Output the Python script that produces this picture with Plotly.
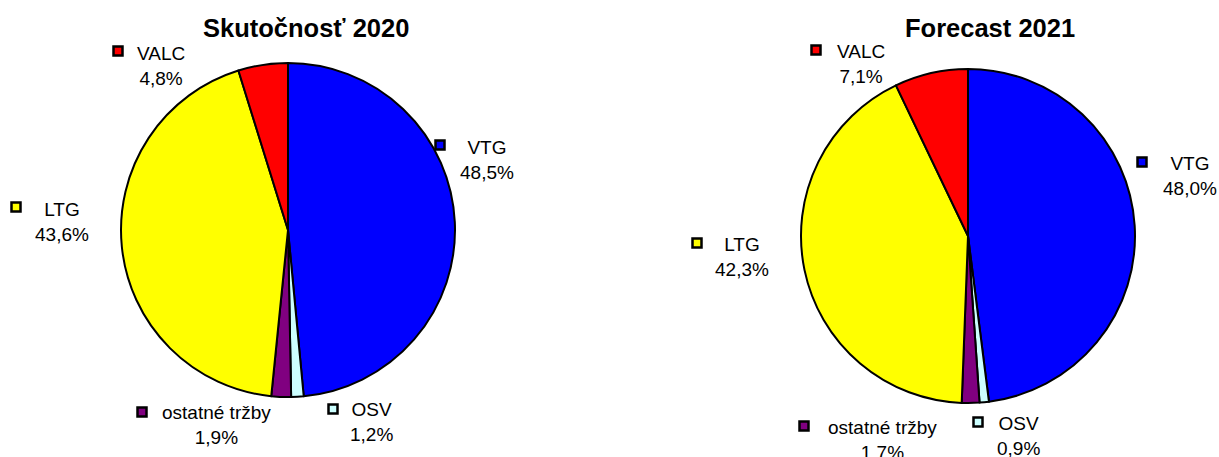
import plotly.graph_objects as go

W, H = 1219, 457

categories = ["VTG", "OSV", "ostatné tržby", "LTG", "VALC"]
values_2020 = [48.5, 1.2, 1.9, 43.6, 4.8]
values_2021 = [48.0, 0.9, 1.7, 42.3, 7.1]
titles = ["Skutočnosť 2020", "Forecast 2021"]
colors = ["#0000FF", "#CCFFFF", "#800080", "#FFFF00", "#FF0000"]

FONT = "Liberation Sans, Arial, sans-serif"

def px(x):
    return x / W

def py(y):
    return 1 - y / H

# pie placement in pixels: (left, right, top, bottom)
pie_boxes = [(121, 455, 63, 397), (801, 1135, 69, 403)]
title_pos = [(306, 28), (990, 28)]
# label text centers and key square centers, in pixels, per category
label_pos = [
    {"VTG": (487, 160), "OSV": (371, 422), "ostatné tržby": (216, 425), "LTG": (62, 222), "VALC": (161, 66)},
    {"VTG": (1190, 176), "OSV": (1018, 436), "ostatné tržby": (882, 440), "LTG": (742, 257), "VALC": (861, 64)},
]
key_pos = [
    {"VTG": (440, 145), "OSV": (333, 409), "ostatné tržby": (142, 412), "LTG": (16, 207), "VALC": (118, 51)},
    {"VTG": (1142, 162), "OSV": (978, 422), "ostatné tržby": (804, 426), "LTG": (697, 243), "VALC": (816, 50)},
]

fig = go.Figure()
annotations = []
shapes = []
for i, vals in enumerate([values_2020, values_2021]):
    l, r, t, b = pie_boxes[i]
    fig.add_trace(go.Pie(
        labels=categories, values=vals, sort=False, direction="clockwise", rotation=0,
        marker=dict(colors=colors, line=dict(color="black", width=2)),
        textinfo="none", hoverinfo="label+percent", showlegend=False,
        domain=dict(x=[px(l), px(r)], y=[py(b), py(t)]),
    ))
    tx, ty = title_pos[i]
    annotations.append(dict(x=px(tx), y=py(ty), xref="paper", yref="paper", text="<b>%s</b>" % titles[i],
                            showarrow=False, font=dict(family=FONT, size=25.5, color="black"),
                            xanchor="center", yanchor="middle"))
    for c, v, col in zip(categories, vals, colors):
        lx, ly = label_pos[i][c]
        annotations.append(dict(x=px(lx), y=py(ly), xref="paper", yref="paper",
                                text="%s<br>%s%%" % (c, ("%.1f" % v).replace(".", ",")),
                                showarrow=False, align="center",
                                font=dict(family=FONT, size=19, color="black"),
                                xanchor="center", yanchor="middle"))
        kx, ky = key_pos[i][c]
        shapes.append(dict(type="rect", xref="paper", yref="paper",
                           x0=px(kx - 4.5), x1=px(kx + 4.5), y0=py(ky + 4.5), y1=py(ky - 4.5),
                           fillcolor=col, line=dict(color="black", width=2.5)))

fig.update_layout(width=W, height=H, margin=dict(l=0, r=0, t=0, b=0),
                  paper_bgcolor="white", plot_bgcolor="white",
                  annotations=annotations, shapes=shapes)
fig.write_html("out.html", config={"displayModeBar": False},
               post_script="document.body.style.margin='0';document.body.style.overflow='hidden';")
